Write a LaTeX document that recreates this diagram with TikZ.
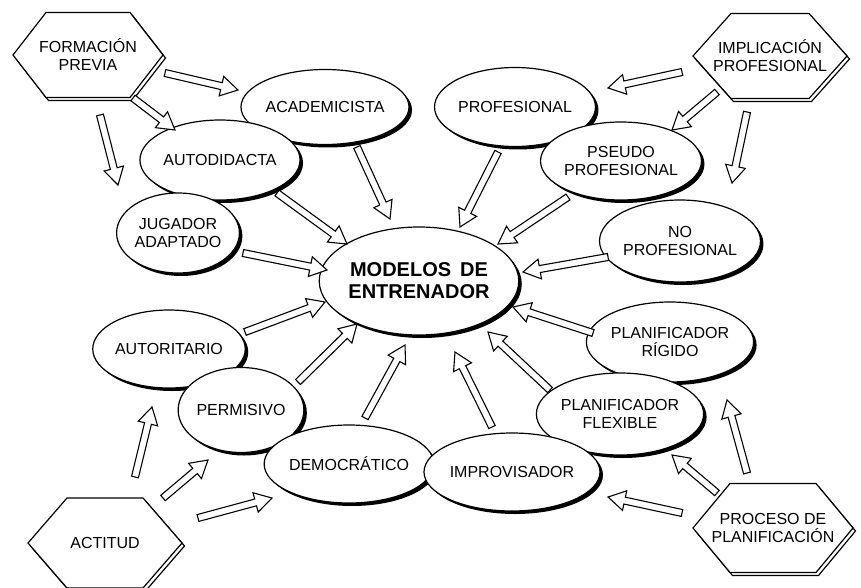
\documentclass[tikz,border=0pt]{standalone}
\usepackage{fontspec}
\setmainfont{Liberation Sans}
\usetikzlibrary{shapes.geometric,shadows,calc}
\tikzset{
  lbl/.style={font=\fontsize{16}{18}\selectfont, align=center},
  oval/.style={ellipse, draw, line width=1.2pt, fill=white, inner sep=0pt, lbl,
    drop shadow={shadow xshift=3pt, shadow yshift=-3pt, opacity=1, fill=black}},
  hexline/.style={draw, line width=1.2pt, fill=white, line join=miter},
  hexlabel/.style={lbl, inner sep=0pt, outer sep=0pt},
  blockarrow/.style={draw, line width=1.1pt, fill=white, line join=miter},
}
% #1 name, #2 x, #3 y, #4 half width, #5 half height, #6 pointer depth, #7 text
\newcommand\hexnode[7]{%
  \begin{scope}[shift={(#2,#3)}]
    \path[hexline, xshift=2.5pt, yshift=-3pt] (-#4,0) -- (-#4+#6,-#5) -- (#4-#6,-#5)
      -- (#4,0) -- (#4-#6,#5) -- (-#4+#6,#5) -- cycle;
    \path[hexline] (-#4,0) -- (-#4+#6,-#5) -- (#4-#6,-#5)
      -- (#4,0) -- (#4-#6,#5) -- (-#4+#6,#5) -- cycle;
  \end{scope}
  \node[hexlabel, minimum width=2*#4, minimum height=2*#5] (#1) at (#2,#3) {#7};
}
\newcommand\barrow[2]{%
  \coordinate (bs) at #1;
  \coordinate (bt) at #2;
  \coordinate (bh) at ($(bt)!17pt!(bs)$);
  \path[blockarrow] ($(bs)!3.5pt!90:(bt)$) -- ($(bh)!3.5pt!-90:(bs)$)
    -- ($(bh)!10pt!-90:(bs)$) -- (bt) -- ($(bh)!10pt!90:(bs)$)
    -- ($(bh)!3.5pt!90:(bs)$) -- ($(bs)!3.5pt!-90:(bt)$) -- cycle;
}
\begin{document}
\begin{tikzpicture}[x=1pt,y=-1pt]
\useasboundingbox (0,0) rectangle (861,588);
% hexagons
\hexnode{form}{88}{55}{75}{42.5}{33}{FORMACIÓN\\PREVIA}
\hexnode{impl}{770}{56}{77}{42.5}{38}{IMPLICACIÓN\\PROFESIONAL}
\hexnode{act}{105}{543}{77}{45}{39}{ACTITUD}
\hexnode{proc}{773}{528}{80}{44.5}{37}{PROCESO DE\\PLANIFICACIÓN}
% ellipses
\node[oval, minimum width=144pt, minimum height=75pt] (acad) at (325,107) {ACADEMICISTA};
\node[oval, minimum width=156pt, minimum height=79pt] (prof) at (515,107) {PROFESIONAL};
\node[oval, minimum width=145pt, minimum height=80pt] (auto) at (220,160) {AUTODIDACTA};
\node[oval, minimum width=147pt, minimum height=78pt] (pseudo) at (621,161) {PSEUDO\\PROFESIONAL};
\node[oval, minimum width=117pt, minimum height=80pt] (jug) at (178,233) {JUGADOR\\ADAPTADO};
\node[oval, minimum width=150pt, minimum height=82pt] (nopro) at (680,241) {NO\\PROFESIONAL};
\node[oval, minimum width=188pt, minimum height=108pt, font=\fontsize{20}{22}\selectfont\bfseries] (mod) at (419,281) {MODELOS\hspace{9pt}DE\\ENTRENADOR};
\node[oval, minimum width=148pt, minimum height=78pt] (autor) at (169,349) {AUTORITARIO};
\node[oval, minimum width=156pt, minimum height=80pt] (rig) at (670,342) {PLANIFICADOR\\RÍGIDO};
\node[oval, minimum width=123pt, minimum height=85pt] (perm) at (241,410) {PERMISIVO};
\node[oval, minimum width=154pt, minimum height=82pt] (flex) at (620,414) {PLANIFICADOR\\FLEXIBLE};
\node[oval, minimum width=148pt, minimum height=78pt] (demo) at (349,464) {DEMOCRÁTICO};
\node[oval, minimum width=161pt, minimum height=78pt] (impro) at (512,472) {IMPROVISADOR};
% arrows
\barrow{($(form)+(77,18)$)}{($(acad)+(-87,-17)$)}
\barrow{($(form)+(45,43)$)}{($(auto)+(-45,-30)$)}
\barrow{($(form)+(12,60)$)}{($(jug)+(-60,-48)$)}
\barrow{($(acad)+(32,40)$)}{($(mod)+(-29,-62)$)}
\barrow{($(auto)+(57,33)$)}{($(mod)+(-72,-37)$)}
\barrow{($(jug)+(65,20)$)}{($(mod)+(-92,-11)$)}
\barrow{($(prof)+(-17,45)$)}{($(mod)+(41,-54)$)}
\barrow{($(pseudo)+(-53,36)$)}{($(mod)+(79,-37)$)}
\barrow{($(nopro)+(-72,16)$)}{($(mod)+(104,-9)$)}
\barrow{($(impl)+(-88,16)$)}{($(prof)+(93,-19)$)}
\barrow{($(impl)+(-53,36)$)}{($(pseudo)+(51,-31)$)}
\barrow{($(impl)+(-23,56)$)}{($(nopro)+(52,-58)$)}
\barrow{($(autor)+(76,-17)$)}{($(mod)+(-94,21)$)}
\barrow{($(perm)+(57,-28)$)}{($(mod)+(-62,43)$)}
\barrow{($(demo)+(16,-46)$)}{($(mod)+(-14,64)$)}
\barrow{($(act)+(30,-66)$)}{($(autor)+(-17,58)$)}
\barrow{($(act)+(58,-45)$)}{($(perm)+(-33,50)$)}
\barrow{($(act)+(93,-25)$)}{($(demo)+(-77,34)$)}
\barrow{($(rig)+(-77,-9)$)}{($(mod)+(94,26)$)}
\barrow{($(flex)+(-70,-24)$)}{($(mod)+(69,51)$)}
\barrow{($(impro)+(-20,-45)$)}{($(mod)+(36,71)$)}
\barrow{($(proc)+(-26,-55)$)}{($(rig)+(57,58)$)}
\barrow{($(proc)+(-56,-35)$)}{($(flex)+(52,41)$)}
\barrow{($(proc)+(-91,-15)$)}{($(impro)+(96,25)$)}
\end{tikzpicture}
\end{document}
